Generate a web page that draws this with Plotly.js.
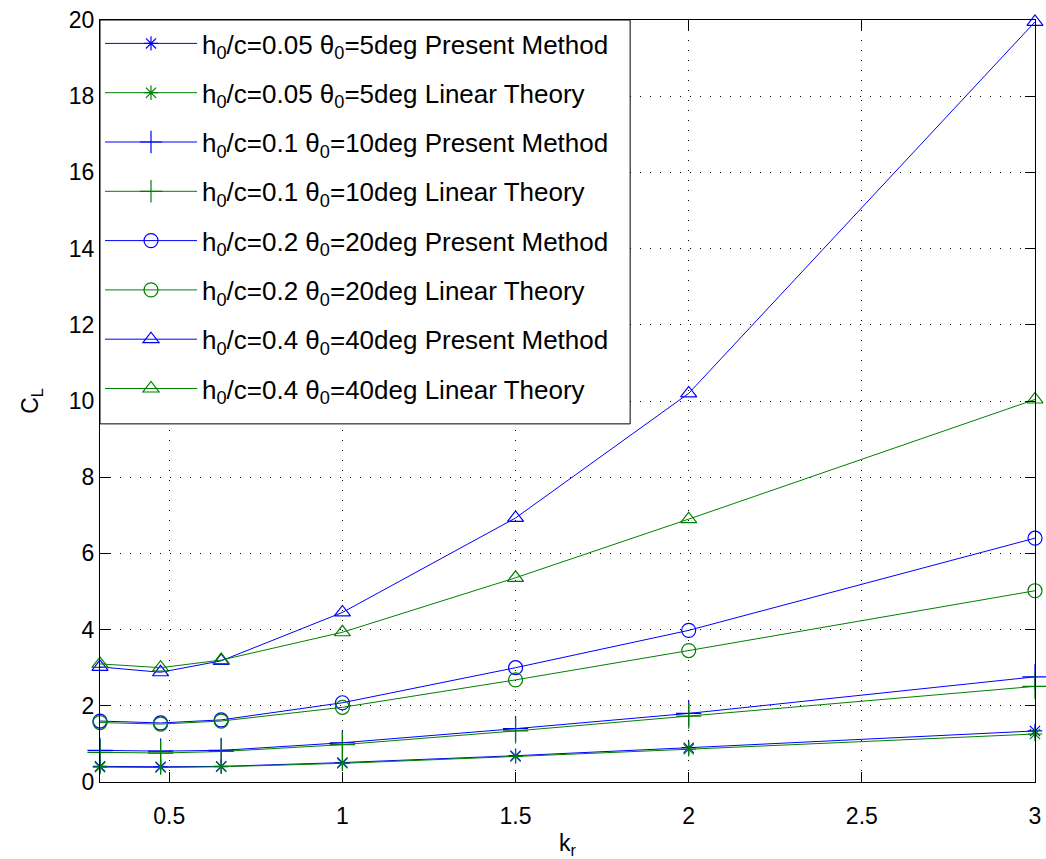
<!DOCTYPE html>
<html>
<head>
<meta charset="utf-8">
<script src="https://cdn.plot.ly/plotly-3.0.1.min.js"></script>
<style>html,body{margin:0;padding:0;background:#fff;}#chart{width:1046px;height:859px;}</style>
</head>
<body>
<div id="chart"></div>
<script>
const kr = [0.3, 0.475, 0.65, 1, 1.5, 2, 3];
const cl_h005_pm = [0.41, 0.40, 0.41, 0.51, 0.69, 0.90, 1.34];
const cl_h005_lt = [0.39, 0.38, 0.40, 0.49, 0.67, 0.86, 1.26];
const cl_h01_pm = [0.83, 0.81, 0.83, 1.03, 1.40, 1.80, 2.76];
const cl_h01_lt = [0.78, 0.76, 0.80, 0.98, 1.34, 1.73, 2.51];
const cl_h02_pm = [1.60, 1.55, 1.63, 2.08, 3.00, 3.98, 6.40];
const cl_h02_lt = [1.56, 1.52, 1.60, 1.96, 2.68, 3.45, 5.02];
const cl_h04_pm = [3.02, 2.88, 3.18, 4.45, 6.93, 10.20, 19.95];
const cl_h04_lt = [3.10, 3.00, 3.20, 3.93, 5.36, 6.90, 10.04];

const xTicks = [0.5, 1, 1.5, 2, 2.5, 3];
const xTickText = ['0.5', '1', '1.5', '2', '2.5', '3'];
const yTicks = [0, 2, 4, 6, 8, 10, 12, 14, 16, 18, 20];
const yTickText = ['0', '2', '4', '6', '8', '10', '12', '14', '16', '18', '20'];

const names = [
  'h<sub>0</sub>/c=0.05 θ<sub>0</sub>=5deg Present Method',
  'h<sub>0</sub>/c=0.05 θ<sub>0</sub>=5deg Linear Theory',
  'h<sub>0</sub>/c=0.1 θ<sub>0</sub>=10deg Present Method',
  'h<sub>0</sub>/c=0.1 θ<sub>0</sub>=10deg Linear Theory',
  'h<sub>0</sub>/c=0.2 θ<sub>0</sub>=20deg Present Method',
  'h<sub>0</sub>/c=0.2 θ<sub>0</sub>=20deg Linear Theory',
  'h<sub>0</sub>/c=0.4 θ<sub>0</sub>=40deg Present Method',
  'h<sub>0</sub>/c=0.4 θ<sub>0</sub>=40deg Linear Theory'
];
const series = [cl_h005_pm, cl_h005_lt, cl_h01_pm, cl_h01_lt, cl_h02_pm, cl_h02_lt, cl_h04_pm, cl_h04_lt];
const BLUE = '#0000ff', GREEN = '#008000';
const symbols = ['asterisk-open','asterisk-open','cross-thin-open','cross-thin-open','circle-open','circle-open','triangle-up-open','triangle-up-open'];
const sizes = [12, 12, 18, 18, 14, 14, 14, 14];

const traces = series.map((y, i) => ({
  x: kr, y: y, name: names[i], type: 'scatter', mode: 'lines+markers',
  legendgroup: 'g' + i,
  cliponaxis: false,
  line: {color: i % 2 === 0 ? BLUE : GREEN, width: 1},
  marker: {symbol: symbols[i], size: sizes[i], color: i % 2 === 0 ? BLUE : GREEN,
           line: {color: i % 2 === 0 ? BLUE : GREEN, width: 1.2}}
}));

const FONT = 'Liberation Sans, Arial, sans-serif';
const layout = {
  width: 1046, height: 859,
  margin: {l: 100, r: 11, t: 20, b: 77},
  paper_bgcolor: '#fff', plot_bgcolor: '#fff',
  font: {family: FONT, size: 23, color: '#000'},
  showlegend: true,
  legend: {x: 0, y: 1, xanchor: 'left', yanchor: 'top', bgcolor: 'rgba(0,0,0,0)',
           bordercolor: '#000', borderwidth: 0, font: {family: FONT, size: 26, color: '#000'},
           traceorder: 'grouped', tracegroupgap: 12.5, itemwidth: 92},
  shapes: [{type: 'rect', xref: 'paper', yref: 'paper', x0: 0, x1: 0.567, y0: 0.470, y1: 1,
            layer: 'above', fillcolor: '#fff', line: {color: '#000', width: 1}}],
  xaxis: {range: [0.3, 3], tickvals: xTicks, ticktext: xTickText, ticks: 'inside', ticklen: 10,
          tickcolor: '#000', showline: true, linecolor: '#000', linewidth: 1, mirror: 'ticks',
          showgrid: true, gridcolor: '#000', griddash: '1px,9px', gridwidth: 1, zeroline: false,
          ticklabelstandoff: 13,
          title: {text: 'k<sub>r</sub>', font: {size: 23}, standoff: 8}},
  yaxis: {range: [0, 20], tickvals: yTicks, ticktext: yTickText, ticks: 'inside', ticklen: 10,
          tickcolor: '#000', showline: true, linecolor: '#000', linewidth: 1, mirror: 'ticks',
          showgrid: true, gridcolor: '#000', griddash: '1px,9px', gridwidth: 1, zeroline: false,
          title: {text: 'C<sub>L</sub>', font: {size: 23}, standoff: 23}}
};
Plotly.newPlot('chart', traces, layout, {displayModeBar: false, staticPlot: true});
</script>
</body>
</html>
